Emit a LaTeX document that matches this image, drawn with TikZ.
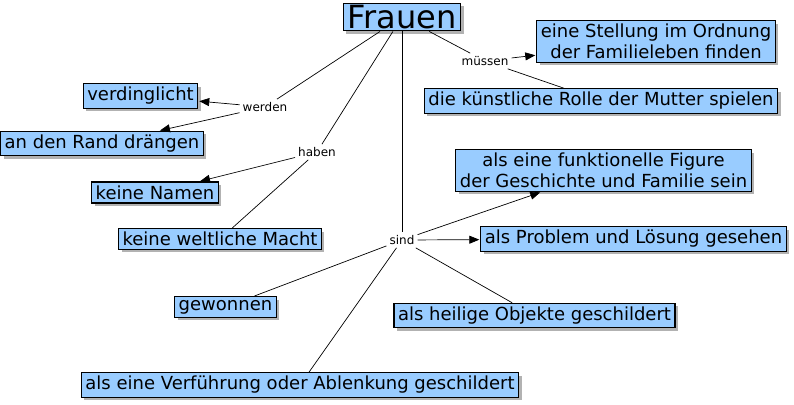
\documentclass[tikz,border=0pt]{standalone}
\usepackage{fontspec}
\setmainfont{DejaVu Sans}
\usetikzlibrary{arrows.meta}
\usetikzlibrary{shadows}
\definecolor{conceptblue}{RGB}{153,204,255}

\begin{document}
\begin{tikzpicture}[x=1pt,y=-1pt,
    concept/.style={draw=black,line width=1.1pt,fill=conceptblue,
        drop shadow={shadow xshift=3pt,shadow yshift=-3pt,fill=black,opacity=.3},
        font=\fontsize{18}{21}\selectfont,align=center,inner xsep=4pt,inner ysep=3.5pt},
    link/.style={font=\fontsize{12}{14}\selectfont,inner sep=3pt},
    conn/.style={line width=0.7pt},
    arr/.style={conn,-{Triangle[length=10pt,width=8pt]},shorten >=1pt}]
    \useasboundingbox (0,0) rectangle (794,404);

    % 概念
    \node[concept,font=\fontsize{32}{36}\selectfont,inner ysep=2pt] (frauen) at (402,17) {Frauen};
    \node[concept] (stellung) at (656,41.5) {eine Stellung im Ordnung\\der Familieleben finden};
    \node[concept] (rolle) at (601,101) {die künstliche Rolle der Mutter spielen};
    \node[concept] (verding) at (140.5,96) {verdinglicht};
    \node[concept] (rand) at (102,143.5) {an den Rand drängen};
    \node[concept] (namen) at (155,192.5) {keine Namen};
    \node[concept] (macht) at (220,239) {keine weltliche Macht};
    \node[concept] (figur) at (603.5,170.5) {als eine funktionelle Figure\\der Geschichte und Familie sein};
    \node[concept] (problem) at (633.5,239) {als Problem und Lösung gesehen};
    \node[concept] (heilig) at (534.5,315.5) {als heilige Objekte geschildert};
    \node[concept] (gewonnen) at (225.5,307) {gewonnen};
    \node[concept] (verf) at (300,385) {als eine Verführung oder Ablenkung geschildert};

    % 连接词
    \node[link] (werden) at (265,107) {werden};
    \node[link] (haben) at (317,152) {haben};
    \node[link] (muessen) at (485,61) {müssen};
    \node[link] (sind) at (402,240) {sind};

    \draw[conn] (frauen) -- (werden);
    \draw[conn] (frauen) -- (haben);
    \draw[conn] (frauen) -- (sind);
    \draw[conn] (frauen) -- (muessen);

    \draw[arr] (werden) -- (verding);
    \draw[arr] (werden) -- (rand);
    \draw[arr] (haben) -- (namen);
    \draw[conn] (haben) -- (macht);
    \draw[arr] (muessen) -- (stellung);
    \draw[conn] (muessen) -- (rolle);
    \draw[arr] (sind) -- (figur);
    \draw[arr] (sind) -- (problem);
    \draw[conn] (sind) -- (heilig);
    \draw[conn] (sind) -- (gewonnen);
    \draw[conn] (sind) -- (verf);
\end{tikzpicture}
\end{document}
